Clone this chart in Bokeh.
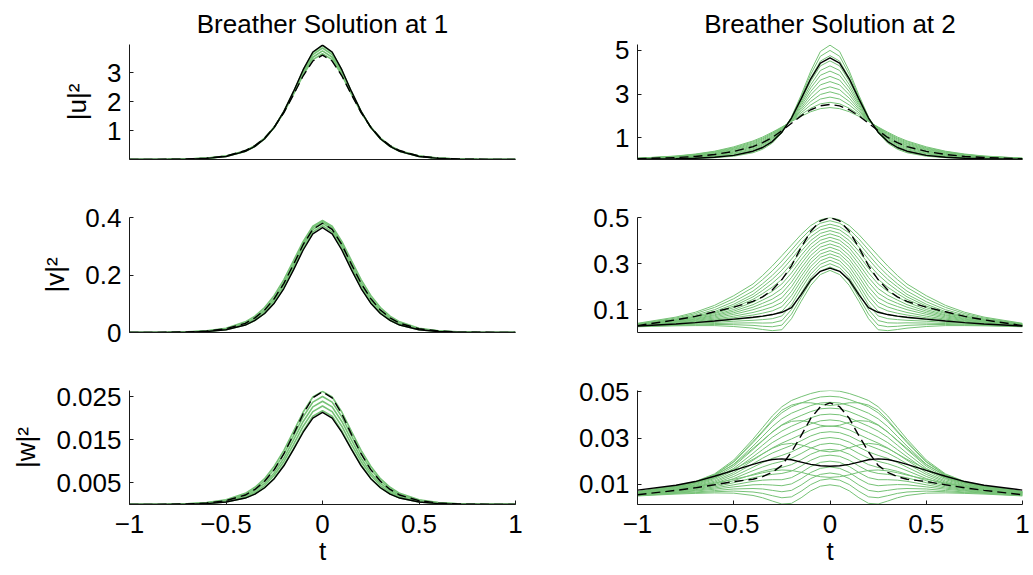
from bokeh.plotting import figure
from bokeh.layouts import column, row
from bokeh.models import FixedTicker, Range1d
from bokeh.embed import file_html
from bokeh.resources import INLINE

# ---------------- data (half profiles, curves are symmetric in t) ----------------
T_HALF = [0.0, 0.05, 0.1, 0.15, 0.2, 0.25, 0.3, 0.35, 0.4, 0.5, 0.6, 0.7, 0.8, 1.0]

TITLES = ["Breather Solution at 1", "Breather Solution at 2"]
YLABELS = ["|u|\u00b2", "|v|\u00b2", "|w|\u00b2"]
X_LABEL = "t"
X_TICKS = [-1, -0.5, 0, 0.5, 1]
X_TICK_LABELS = ["\u22121", "\u22120.5", "0", "0.5", "1"]

# --- solution 1 ---
U1_SOLID = [3.95, 3.71, 3.10, 2.35, 1.66, 1.11, 0.715, 0.450, 0.279, 0.105, 0.039, 0.014, 0.005, 0.001]
U1_DASHED = [3.60, 3.40, 2.89, 2.24, 1.62, 1.12, 0.74, 0.48, 0.31, 0.12, 0.047, 0.018, 0.007, 0.001]
U1_GREEN = [
    [3.65, 3.45, 2.92, 2.26, 1.63, 1.12, 0.74, 0.48, 0.30, 0.12, 0.046, 0.017, 0.007, 0.001],
    [3.75, 3.53, 2.98, 2.29, 1.64, 1.11, 0.73, 0.47, 0.29, 0.115, 0.044, 0.016, 0.006, 0.001],
    [3.85, 3.62, 3.04, 2.32, 1.65, 1.11, 0.72, 0.46, 0.285, 0.11, 0.041, 0.015, 0.006, 0.001],
    [3.93, 3.69, 3.09, 2.34, 1.66, 1.11, 0.715, 0.45, 0.28, 0.105, 0.039, 0.014, 0.005, 0.001],
]
V1_SOLID = [0.365, 0.343, 0.287, 0.218, 0.153, 0.102, 0.066, 0.042, 0.026, 0.0097, 0.0036, 0.0013, 0.0005, 0.0001]
V1_DASHED = [0.38, 0.359, 0.306, 0.237, 0.171, 0.118, 0.078, 0.051, 0.032, 0.013, 0.005, 0.0019, 0.0008, 0.0001]
V1_GREEN = [
    [0.372, 0.350, 0.292, 0.222, 0.156, 0.104, 0.067, 0.042, 0.026, 0.0099, 0.0037, 0.0013, 0.0005, 0.0001],
    [0.380, 0.358, 0.302, 0.232, 0.165, 0.112, 0.074, 0.047, 0.030, 0.0114, 0.0044, 0.0016, 0.0006, 0.0001],
    [0.386, 0.365, 0.310, 0.240, 0.174, 0.120, 0.080, 0.051, 0.033, 0.013, 0.005, 0.002, 0.0008, 0.0001],
    [0.390, 0.370, 0.317, 0.250, 0.184, 0.129, 0.087, 0.057, 0.037, 0.015, 0.006, 0.0024, 0.001, 0.0001],
]
W1_SOLID = [0.0214, 0.0201, 0.0168, 0.0128, 0.0090, 0.0060, 0.0039, 0.0024, 0.0015, 0.00057, 0.00021, 0.00008, 0.00003, 0.0]
W1_DASHED = [0.0262, 0.0248, 0.0211, 0.0163, 0.0118, 0.0081, 0.0054, 0.0035, 0.0022, 0.0009, 0.00034, 0.00013, 0.00005, 0.00001]
W1_GREEN = [
    [0.0218, 0.0205, 0.0171, 0.0130, 0.0092, 0.0061, 0.0039, 0.0025, 0.0015, 0.00058, 0.00022, 0.00008, 0.00003, 0.0],
    [0.0229, 0.0216, 0.0182, 0.0140, 0.0100, 0.0068, 0.0044, 0.0028, 0.0018, 0.0007, 0.00026, 0.0001, 0.00004, 0.0],
    [0.0240, 0.0227, 0.0193, 0.0150, 0.0108, 0.0074, 0.0049, 0.0032, 0.0020, 0.0008, 0.0003, 0.00012, 0.00005, 0.0],
    [0.0251, 0.0238, 0.0204, 0.0160, 0.0117, 0.0082, 0.0055, 0.0036, 0.0023, 0.00095, 0.00038, 0.00015, 0.00006, 0.00001],
    [0.0263, 0.0250, 0.0215, 0.0170, 0.0126, 0.0089, 0.0060, 0.0040, 0.0026, 0.0011, 0.00045, 0.00018, 0.00007, 0.00001],
]

# --- solution 2 ---
U2_SOLID = [4.66, 4.42, 3.70, 2.78, 1.90, 1.25, 0.82, 0.55, 0.38, 0.19, 0.10, 0.06, 0.035, 0.015]
U2_DASHED = [2.52, 2.46, 2.28, 2.00, 1.66, 1.32, 1.01, 0.77, 0.59, 0.37, 0.23, 0.14, 0.09, 0.035]
U2_GREEN = [
    [2.38, 2.33, 2.19, 1.98, 1.74, 1.49, 1.25, 1.03, 0.85, 0.58, 0.38, 0.25, 0.16, 0.06],
    [2.62, 2.55, 2.35, 2.06, 1.76, 1.47, 1.21, 0.98, 0.81, 0.54, 0.36, 0.23, 0.15, 0.056],
    [2.86, 2.77, 2.50, 2.14, 1.78, 1.45, 1.17, 0.94, 0.76, 0.51, 0.33, 0.22, 0.14, 0.052],
    [3.10, 2.98, 2.66, 2.22, 1.79, 1.42, 1.13, 0.89, 0.72, 0.47, 0.31, 0.20, 0.128, 0.048],
    [3.33, 3.20, 2.81, 2.30, 1.81, 1.40, 1.08, 0.84, 0.67, 0.44, 0.28, 0.18, 0.117, 0.044],
    [3.57, 3.42, 2.97, 2.38, 1.83, 1.38, 1.04, 0.80, 0.63, 0.40, 0.255, 0.167, 0.106, 0.04],
    [3.81, 3.64, 3.12, 2.47, 1.85, 1.36, 1.00, 0.75, 0.58, 0.365, 0.23, 0.15, 0.095, 0.036],
    [4.05, 3.86, 3.28, 2.55, 1.86, 1.33, 0.96, 0.70, 0.54, 0.33, 0.205, 0.133, 0.084, 0.032],
    [4.29, 4.08, 3.43, 2.63, 1.88, 1.31, 0.92, 0.66, 0.49, 0.29, 0.18, 0.117, 0.073, 0.028],
    [4.52, 4.29, 3.59, 2.71, 1.90, 1.29, 0.875, 0.61, 0.445, 0.258, 0.155, 0.10, 0.063, 0.024],
    [4.76, 4.51, 3.74, 2.79, 1.92, 1.27, 0.83, 0.56, 0.40, 0.22, 0.13, 0.083, 0.052, 0.02],
    [5.00, 4.73, 3.90, 2.87, 1.93, 1.24, 0.79, 0.52, 0.355, 0.186, 0.105, 0.067, 0.041, 0.016],
    [5.24, 4.95, 4.05, 2.95, 1.95, 1.22, 0.75, 0.47, 0.31, 0.15, 0.08, 0.05, 0.03, 0.012],
]
V2_SOLID = [0.28, 0.266, 0.228, 0.165, 0.108, 0.088, 0.078, 0.071, 0.066, 0.058, 0.05, 0.043, 0.037, 0.028]
V2_DASHED = [0.50, 0.485, 0.44, 0.37, 0.29, 0.23, 0.185, 0.155, 0.135, 0.11, 0.09, 0.07, 0.055, 0.03]
V2_GREEN = [
    [0.270, 0.252, 0.205, 0.135, 0.060, 0.012, 0.008, 0.013, 0.019, 0.026, 0.030, 0.030, 0.029, 0.025],
    [0.285, 0.267, 0.222, 0.153, 0.080, 0.032, 0.025, 0.027, 0.031, 0.034, 0.035, 0.033, 0.031, 0.026],
    [0.299, 0.282, 0.238, 0.171, 0.100, 0.052, 0.042, 0.041, 0.042, 0.041, 0.039, 0.036, 0.033, 0.027],
    [0.314, 0.297, 0.254, 0.190, 0.120, 0.072, 0.060, 0.056, 0.053, 0.049, 0.044, 0.040, 0.035, 0.028],
    [0.328, 0.312, 0.270, 0.208, 0.140, 0.092, 0.077, 0.070, 0.064, 0.056, 0.049, 0.043, 0.037, 0.028],
    [0.342, 0.327, 0.287, 0.226, 0.160, 0.112, 0.094, 0.084, 0.076, 0.064, 0.054, 0.046, 0.039, 0.029],
    [0.356, 0.341, 0.303, 0.244, 0.179, 0.131, 0.111, 0.098, 0.087, 0.071, 0.058, 0.049, 0.041, 0.030],
    [0.371, 0.356, 0.319, 0.262, 0.199, 0.151, 0.128, 0.113, 0.099, 0.079, 0.063, 0.052, 0.044, 0.031],
    [0.385, 0.371, 0.335, 0.280, 0.219, 0.171, 0.145, 0.127, 0.110, 0.086, 0.068, 0.055, 0.046, 0.032],
    [0.400, 0.386, 0.352, 0.298, 0.239, 0.191, 0.162, 0.141, 0.121, 0.093, 0.073, 0.058, 0.048, 0.033],
    [0.414, 0.401, 0.368, 0.316, 0.259, 0.211, 0.179, 0.155, 0.132, 0.100, 0.077, 0.061, 0.050, 0.033],
    [0.429, 0.416, 0.384, 0.335, 0.279, 0.231, 0.197, 0.169, 0.144, 0.108, 0.082, 0.065, 0.052, 0.034],
    [0.443, 0.431, 0.400, 0.353, 0.299, 0.251, 0.214, 0.183, 0.155, 0.115, 0.086, 0.068, 0.054, 0.035],
    [0.457, 0.446, 0.417, 0.371, 0.319, 0.271, 0.231, 0.198, 0.166, 0.123, 0.091, 0.071, 0.056, 0.036],
    [0.471, 0.460, 0.433, 0.389, 0.338, 0.290, 0.248, 0.212, 0.180, 0.134, 0.099, 0.076, 0.059, 0.037],
    [0.486, 0.475, 0.449, 0.407, 0.359, 0.311, 0.268, 0.230, 0.196, 0.147, 0.109, 0.082, 0.063, 0.038],
    [0.500, 0.490, 0.465, 0.426, 0.380, 0.334, 0.289, 0.248, 0.211, 0.160, 0.118, 0.088, 0.067, 0.040],
]
W2_SOLID = [0.0178, 0.0180, 0.0186, 0.0196, 0.0206, 0.0210, 0.0207, 0.0198, 0.0186, 0.0160, 0.0135, 0.0112, 0.0096, 0.0075]
W2_DASHED = [0.0452, 0.0435, 0.0385, 0.0310, 0.0240, 0.0182, 0.0152, 0.0133, 0.0122, 0.0112, 0.0098, 0.0085, 0.0074, 0.0055]
W2_GREEN = [
    [0.0098, 0.0092, 0.0072, 0.0042, 0.0018, 0.0015, 0.0028, 0.0042, 0.0052, 0.0062, 0.0063, 0.0061, 0.0058, 0.0050],
    [0.0124, 0.0118, 0.0099, 0.0070, 0.0046, 0.0042, 0.0051, 0.0061, 0.0067, 0.0071, 0.0068, 0.0064, 0.0061, 0.0051],
    [0.0149, 0.0143, 0.0125, 0.0097, 0.0074, 0.0068, 0.0074, 0.0080, 0.0082, 0.0080, 0.0073, 0.0067, 0.0063, 0.0052],
    [0.0175, 0.0169, 0.0151, 0.0124, 0.0102, 0.0094, 0.0097, 0.0099, 0.0098, 0.0089, 0.0079, 0.0071, 0.0065, 0.0054],
    [0.0200, 0.0195, 0.0177, 0.0151, 0.0129, 0.0120, 0.0120, 0.0118, 0.0113, 0.0098, 0.0084, 0.0074, 0.0067, 0.0055],
    [0.0226, 0.0221, 0.0204, 0.0179, 0.0157, 0.0147, 0.0143, 0.0137, 0.0128, 0.0107, 0.0089, 0.0077, 0.0070, 0.0056],
    [0.0251, 0.0246, 0.0230, 0.0206, 0.0185, 0.0173, 0.0166, 0.0156, 0.0143, 0.0116, 0.0094, 0.0080, 0.0072, 0.0057],
    [0.0277, 0.0272, 0.0256, 0.0233, 0.0213, 0.0199, 0.0189, 0.0175, 0.0159, 0.0125, 0.0099, 0.0084, 0.0075, 0.0058],
    [0.0302, 0.0297, 0.0282, 0.0260, 0.0240, 0.0225, 0.0212, 0.0194, 0.0174, 0.0134, 0.0104, 0.0087, 0.0077, 0.0059],
    [0.0327, 0.0323, 0.0309, 0.0288, 0.0268, 0.0252, 0.0235, 0.0213, 0.0189, 0.0143, 0.0109, 0.0090, 0.0079, 0.0060],
    [0.0352, 0.0348, 0.0335, 0.0315, 0.0296, 0.0278, 0.0257, 0.0231, 0.0204, 0.0151, 0.0114, 0.0093, 0.0081, 0.0061],
    [0.0378, 0.0374, 0.0361, 0.0342, 0.0324, 0.0304, 0.0280, 0.0250, 0.0219, 0.0160, 0.0120, 0.0096, 0.0084, 0.0063],
    [0.0403, 0.0400, 0.0387, 0.0369, 0.0351, 0.0330, 0.0303, 0.0269, 0.0234, 0.0169, 0.0125, 0.0099, 0.0086, 0.0064],
    [0.0429, 0.0426, 0.0414, 0.0397, 0.0379, 0.0357, 0.0326, 0.0288, 0.0250, 0.0178, 0.0130, 0.0103, 0.0088, 0.0065],
    [0.0454, 0.0451, 0.0440, 0.0424, 0.0407, 0.0383, 0.0349, 0.0307, 0.0265, 0.0187, 0.0135, 0.0106, 0.0090, 0.0066],
    [0.0480, 0.0477, 0.0466, 0.0451, 0.0435, 0.0409, 0.0372, 0.0326, 0.0280, 0.0196, 0.0140, 0.0109, 0.0093, 0.0067],
    [0.0505, 0.0502, 0.0492, 0.0478, 0.0462, 0.0435, 0.0395, 0.0345, 0.0295, 0.0205, 0.0145, 0.0112, 0.0095, 0.0068],
    [0.0130, 0.0133, 0.0141, 0.0152, 0.0160, 0.0162, 0.0158, 0.0150, 0.0140, 0.0122, 0.0105, 0.0090, 0.0080, 0.0062],
    [0.0240, 0.0245, 0.0258, 0.0270, 0.0277, 0.0272, 0.0255, 0.0232, 0.0208, 0.0165, 0.0128, 0.0105, 0.0090, 0.0068],
    [0.0350, 0.0355, 0.0368, 0.0375, 0.0372, 0.0355, 0.0325, 0.0290, 0.0255, 0.0185, 0.0138, 0.0108, 0.0092, 0.0068],
    [0.0440, 0.0445, 0.0452, 0.0452, 0.0442, 0.0420, 0.0378, 0.0330, 0.0285, 0.0198, 0.0142, 0.0110, 0.0094, 0.0068],
]

Y_RANGES = [[(0.0, 3.97), (0.0, 5.27)],
            [(0.0, 0.40), (0.0, 0.50)],
            [(0.0, 0.0265), (0.0013, 0.0505)]]
Y_TICKS = [[[1, 2, 3], [1, 3, 5]],
           [[0, 0.2, 0.4], [0.1, 0.3, 0.5]],
           [[0.005, 0.015, 0.025], [0.01, 0.03, 0.05]]]
Y_TICK_LABELS = [[["1", "2", "3"], ["1", "3", "5"]],
                 [["0", "0.2", "0.4"], ["0.1", "0.3", "0.5"]],
                 [["0.005", "0.015", "0.025"], ["0.01", "0.03", "0.05"]]]

PANELS = [[(U1_SOLID, U1_DASHED, U1_GREEN), (U2_SOLID, U2_DASHED, U2_GREEN)],
          [(V1_SOLID, V1_DASHED, V1_GREEN), (V2_SOLID, V2_DASHED, V2_GREEN)],
          [(W1_SOLID, W1_DASHED, W1_GREEN), (W2_SOLID, W2_DASHED, W2_GREEN)]]

# ---------------- styling / layout ----------------
FONT = "Liberation Sans"
FS = "26px"
GREEN = "#76c276"
AXIS_COLOR = "#1a1a1a"

T_FULL = [-t for t in reversed(T_HALF)] + T_HALF[1:]


def mirror(v):
    return list(reversed(v)) + list(v[1:])


COL_W = [525, 505]
COL_BL = [129, 112]
COL_BR = [10, 8]
ROW_BT = [44, 48, 42]
ROW_FH = [115, 115, 114]
ROW_BB = [10, 16, 70]

rows = []
for r in range(3):
    figs = []
    for c in range(2):
        y0, y1 = Y_RANGES[r][c]
        h = ROW_BT[r] + ROW_FH[r] + ROW_BB[r]
        kw = {}
        if r == 0:
            kw["title"] = TITLES[c]
        p = figure(width=COL_W[c], height=h, x_range=Range1d(-1, 1), y_range=Range1d(y0, y1),
                   output_backend="svg", toolbar_location=None,
                   min_border_left=COL_BL[c], min_border_right=COL_BR[c],
                   min_border_top=ROW_BT[r], min_border_bottom=ROW_BB[r], **kw)
        p.outline_line_color = None
        p.grid.visible = False
        p.background_fill_color = "white"
        p.border_fill_color = "white"
        if r == 0:
            p.title.align = "center"
            p.title.text_font = FONT
            p.title.text_font_size = FS
            p.title.text_font_style = "normal"
            p.title.text_color = "black"
            p.title.standoff = 12

        solid, dashed, greens = PANELS[r][c]
        green_w = 1.6 if c == 0 else 1.0
        for g in greens:
            p.line(T_FULL, mirror(g), line_color=GREEN, line_width=green_w)
        p.line(T_FULL, mirror(dashed), line_color="black", line_width=1.4, line_dash="9 5")
        p.line(T_FULL, mirror(solid), line_color="black", line_width=1.4)

        # y axis
        ya = p.yaxis[0]
        ya.ticker = FixedTicker(ticks=Y_TICKS[r][c])
        ya.major_label_overrides = {t: s for t, s in zip(Y_TICKS[r][c], Y_TICK_LABELS[r][c])}
        ya.major_label_text_font = FONT
        ya.major_label_text_font_size = FS
        ya.major_label_text_color = "black"
        ya.major_label_standoff = 8
        ya.major_tick_in = 4
        ya.major_tick_out = 0
        ya.minor_tick_line_color = None
        ya.axis_line_color = AXIS_COLOR
        ya.major_tick_line_color = AXIS_COLOR
        if c == 0:
            ya.axis_label = YLABELS[r]
            ya.axis_label_text_font = FONT
            ya.axis_label_text_font_size = FS
            ya.axis_label_text_font_style = "normal"
            ya.axis_label_text_color = "black"
            ya.axis_label_standoff = 12

        # x axis
        xa = p.xaxis[0]
        xa.minor_tick_line_color = None
        xa.axis_line_color = AXIS_COLOR
        xa.major_tick_line_color = AXIS_COLOR
        xa.major_tick_in = 4
        xa.major_tick_out = 0
        if r < 2:
            xa.ticker = FixedTicker(ticks=[])
            xa.major_label_text_font_size = "0px"
        else:
            xa.ticker = FixedTicker(ticks=X_TICKS)
            xa.major_label_overrides = {t: s for t, s in zip(X_TICKS, X_TICK_LABELS)}
            xa.major_label_text_font = FONT
            xa.major_label_text_font_size = FS
            xa.major_label_text_color = "black"
            xa.major_label_standoff = 10
            xa.axis_label = X_LABEL
            xa.axis_label_text_font = FONT
            xa.axis_label_text_font_size = FS
            xa.axis_label_text_font_style = "normal"
            xa.axis_label_text_color = "black"
            xa.axis_label_standoff = 0
        figs.append(p)
    rows.append(row(*figs))

layout = column(*rows)
open("out.html", "w").write(file_html(layout, INLINE))
